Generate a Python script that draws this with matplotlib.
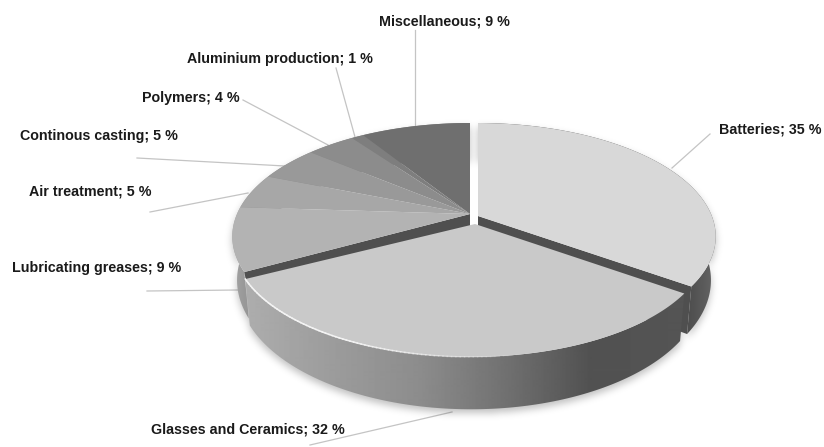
import numpy as np
import matplotlib
matplotlib.use("Agg")
import matplotlib.pyplot as plt
from matplotlib.patches import Polygon
from matplotlib.path import Path

plt.rcParams['font.family'] = ['Liberation Sans', 'DejaVu Sans']

# Data
labels = ["Batteries", "Glasses and Ceramics", "Lubricating greases", "Air treatment",
          "Continous casting", "Polymers", "Aluminium production", "Miscellaneous"]
values = [35, 32, 9, 5, 5, 4, 1, 9]
greys = ['#d8d8d8', '#c9c9c9', '#b3b3b3', '#a7a7a7', '#999999', '#8c8c8c', '#7e7e7e', '#6f6f6f']

# Label position (left x, centre y) and leader line, in pixels
label_pos = [(719, 129), (151, 429), (12, 268), (29, 192), (20, 136), (142, 98), (187, 59), (379, 22)]
leaders = [[(710, 134), (672, 168)], [(310, 445), (452, 412)], [(147, 291), (238, 290)],
           [(150, 212), (248, 193)], [(137, 158), (285, 166)], [(243, 100), (328, 145)],
           [(336, 68), (355, 137)], [(415, 30), (415, 127)]]

W, H = 824, 447
RX = 233.0
RY = 109.0
PERSP = 0.198
DEPTH = 42.0


def rim(cx, cy, a0, a1, n=120):
    a = np.radians(np.linspace(a0, a1, n))
    s = 1.0 / (1.0 + PERSP * np.cos(a))
    return cx + RX * np.sin(a) * s, cy - RY * np.cos(a) * s, s


def wall_poly(cx, cy, a0, a1):
    x, y, s = rim(cx, cy, a0, a1)
    xb = cx + (x - cx) * 0.98
    yb = y + DEPTH * s
    return np.r_[np.c_[x, y], np.c_[xb, yb][::-1]]


def gradient_fill(ax, verts, stops, z):
    xs = np.arange(W)
    g = np.interp(xs, [p[0] for p in stops], [p[1] for p in stops])
    img = ax.imshow(g[None, :], cmap='gray', vmin=0, vmax=1, extent=(0, W, H, 0),
                    aspect='auto', zorder=z, interpolation='bilinear')
    img.set_clip_path(Polygon(verts, closed=True, transform=ax.transData))


def soft_shadow(ax, polys):
    yy, xx = np.mgrid[0:H, 0:W]
    pts = np.c_[xx.ravel() + 0.5, yy.ravel() + 0.5]
    mask = np.zeros(H * W)
    for p in polys:
        mask = np.maximum(mask, Path(p + [0, 4]).contains_points(pts).astype(float))
    mask = mask.reshape(H, W)
    k = np.exp(-np.linspace(-2.2, 2.2, 25) ** 2)
    k /= k.sum()
    mask = np.apply_along_axis(np.convolve, 0, mask, k, mode='same')
    mask = np.apply_along_axis(np.convolve, 1, mask, k, mode='same')
    rgba = np.zeros((H, W, 4))
    rgba[..., 3] = mask * 0.25
    ax.imshow(rgba, extent=(0, W, H, 0), aspect='auto', zorder=1)


fig = plt.figure(figsize=(W / 100, H / 100), dpi=100)
ax = fig.add_axes([0, 0, 1, 1])

# slice angles, clockwise from the top
edges = np.r_[0, np.cumsum(values)] * 3.6
# rim centre and apex differ a little, the reference is not a true projection
centres = [(478, 214), (471, 221)] + [(470, 214)] * 6
apexes = [(478, 216), (475, 224)] + [(470, 214)] * 6

soft_shadow(ax, [wall_poly(*centres[0], edges[0], edges[1]),
                 wall_poly(*centres[1], edges[1], edges[2]),
                 wall_poly(*centres[2], edges[2], edges[-1])])

# back block walls and the radial faces
gradient_fill(ax, wall_poly(*centres[2], edges[2], edges[-1]),
              [(233, 0.64), (250, 0.58), (470, 0.45)], 2)
gradient_fill(ax, wall_poly(*centres[0], edges[0], edges[1]),
              [(660, 0.29), (690, 0.31), (716, 0.40)], 2)

for i, a, squeeze in [(0, edges[1], 0.98), (2, edges[2], 0.96)]:
    cx, cy = centres[i]
    ax_, ay_ = apexes[i]
    x, y, s = rim(cx, cy, a, a, 2)
    ax.add_patch(Polygon([(ax_, ay_), (x[0], y[0]), (cx + (x[0] - cx) * squeeze, y[0] + DEPTH * s[0]),
                          (ax_, ay_ + DEPTH)], closed=True, fc='#4f4f4f', ec='none', zorder=3))

# top faces of back slices
for i in [0] + list(range(2, len(values))):
    x, y, _ = rim(*centres[i], edges[i], edges[i + 1])
    ax.add_patch(Polygon(np.r_[[apexes[i]], np.c_[x, y]], closed=True, fc=greys[i], ec='none', zorder=4))

# front slice sits on top of the others
gradient_fill(ax, wall_poly(*centres[1], edges[1], edges[2]),
              [(245, 0.68), (320, 0.62), (420, 0.55), (500, 0.45), (590, 0.32), (685, 0.33)], 5)
x, y, _ = rim(*centres[1], edges[1], edges[2])
ax.add_patch(Polygon(np.r_[[apexes[1]], np.c_[x, y]], closed=True, fc=greys[1], ec='none', zorder=6))

# bright bevel on the front rim, fading out to the right
x, y, _ = rim(*centres[1], 165, edges[2], 90)
fade = np.clip((np.arange(len(x)) - 5) / 45.0, 0, 1)
for j in range(len(x) - 1):
    ax.plot(x[j:j + 2], y[j:j + 2], color='#f4f4f4', lw=1.1, alpha=fade[j], zorder=7)

for i, name in enumerate(labels):
    (x0, y0), (x1, y1) = leaders[i]
    ax.plot([x0, x1], [y0, y1], color='#c4c4c4', lw=0.9, zorder=0.5)
    ax.text(label_pos[i][0], label_pos[i][1], f"{name}; {values[i]} %", fontsize=10.3, fontweight='bold',
            color='#1a1a1a', ha='left', va='center', zorder=8)

ax.set_xlim(0, W)
ax.set_ylim(H, 0)
ax.axis('off')
fig.savefig('out.png', dpi=100, facecolor='white')
